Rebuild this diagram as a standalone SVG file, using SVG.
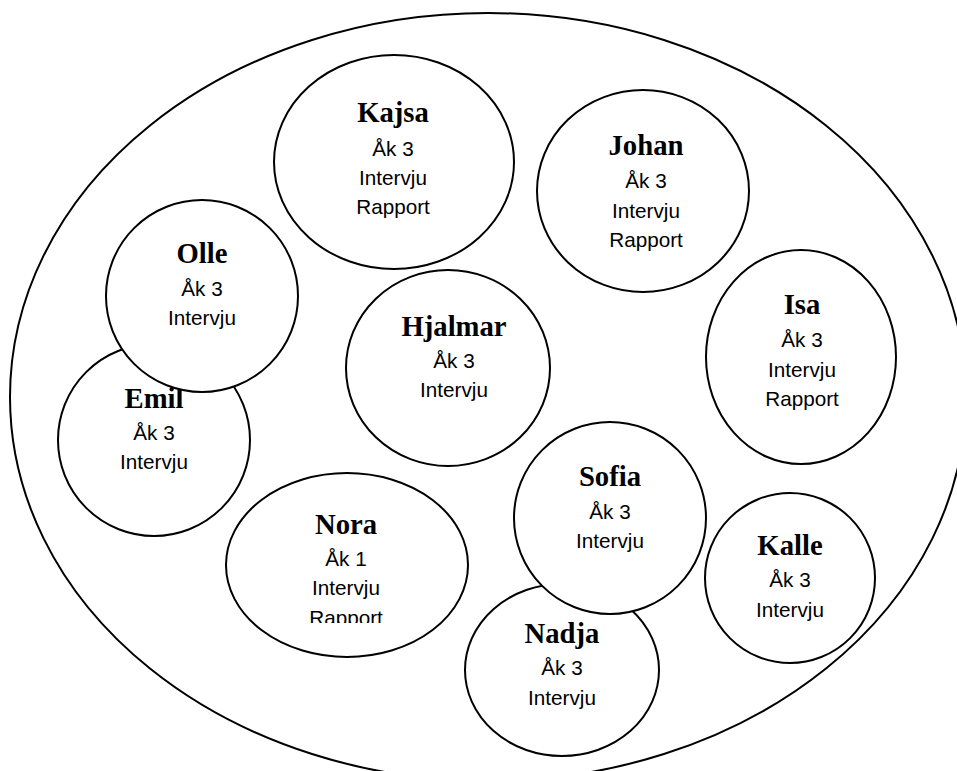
<svg xmlns="http://www.w3.org/2000/svg" width="957" height="771" viewBox="0 0 957 771">
  <style>
    .shape { fill: #ffffff; stroke: #000000; stroke-width: 2; }
    .name { font-family: "Liberation Serif", "Times New Roman", serif; font-weight: bold; font-size: 28.7px; fill: #000000; text-anchor: middle; }
    .info { font-family: "Liberation Sans", Arial, sans-serif; font-size: 20.7px; fill: #000000; text-anchor: middle; }
  </style>
  <defs>
    <!-- the last line of Nora's text box is cut off at the box edge -->
    <clipPath id="noraBox">
      <rect x="226" y="473" width="242" height="150"/>
    </clipPath>
  </defs>
  <rect width="957" height="771" fill="#ffffff"/>

  <!-- surrounding group boundary -->
  <g id="group">
    <ellipse class="shape" cx="488" cy="397" rx="478" ry="384"/>
  </g>

  <g id="kajsa">
    <ellipse class="shape" cx="394" cy="162" rx="120" ry="107"/>
    <text class="name" x="393" y="122">Kajsa</text>
    <text class="info" x="393" y="156">Åk 3</text>
    <text class="info" x="393" y="185">Intervju</text>
    <text class="info" x="393" y="214">Rapport</text>
  </g>

  <g id="johan">
    <ellipse class="shape" cx="643" cy="191" rx="106" ry="101"/>
    <text class="name" x="646" y="155">Johan</text>
    <text class="info" x="646" y="188">Åk 3</text>
    <text class="info" x="646" y="218">Intervju</text>
    <text class="info" x="646" y="247">Rapport</text>
  </g>

  <g id="emil">
    <ellipse class="shape" cx="154" cy="440" rx="96" ry="96"/>
    <text class="name" x="154" y="408">Emil</text>
    <text class="info" x="154" y="440">Åk 3</text>
    <text class="info" x="154" y="469">Intervju</text>
  </g>

  <g id="olle">
    <ellipse class="shape" cx="202" cy="296" rx="96" ry="96"/>
    <text class="name" x="202" y="263">Olle</text>
    <text class="info" x="202" y="296">Åk 3</text>
    <text class="info" x="202" y="325">Intervju</text>
  </g>

  <g id="hjalmar">
    <ellipse class="shape" cx="448" cy="368" rx="102" ry="98"/>
    <text class="name" x="454" y="336">Hjalmar</text>
    <text class="info" x="454" y="368">Åk 3</text>
    <text class="info" x="454" y="397">Intervju</text>
  </g>

  <g id="isa">
    <ellipse class="shape" cx="801" cy="357" rx="95" ry="107"/>
    <text class="name" x="802" y="314">Isa</text>
    <text class="info" x="802" y="347">Åk 3</text>
    <text class="info" x="802" y="377">Intervju</text>
    <text class="info" x="802" y="406">Rapport</text>
  </g>

  <g id="nora">
    <ellipse class="shape" cx="347" cy="565" rx="121" ry="92"/>
    <text class="name" x="346" y="534">Nora</text>
    <text class="info" x="346" y="566">Åk 1</text>
    <text class="info" x="346" y="595">Intervju</text>
    <text class="info" x="346" y="625" clip-path="url(#noraBox)">Rapport</text>
  </g>

  <g id="nadja">
    <ellipse class="shape" cx="562" cy="670" rx="97" ry="86"/>
    <text class="name" x="562" y="643">Nadja</text>
    <text class="info" x="562" y="675">Åk 3</text>
    <text class="info" x="562" y="705">Intervju</text>
  </g>

  <g id="sofia">
    <ellipse class="shape" cx="610" cy="518" rx="96" ry="96"/>
    <text class="name" x="610" y="486">Sofia</text>
    <text class="info" x="610" y="519">Åk 3</text>
    <text class="info" x="610" y="548">Intervju</text>
  </g>

  <g id="kalle">
    <ellipse class="shape" cx="790" cy="578" rx="85" ry="85"/>
    <text class="name" x="790" y="555">Kalle</text>
    <text class="info" x="790" y="587">Åk 3</text>
    <text class="info" x="790" y="617">Intervju</text>
  </g>

  <!-- no connectors in this diagram -->
  <g id="connectors"/>
</svg>
